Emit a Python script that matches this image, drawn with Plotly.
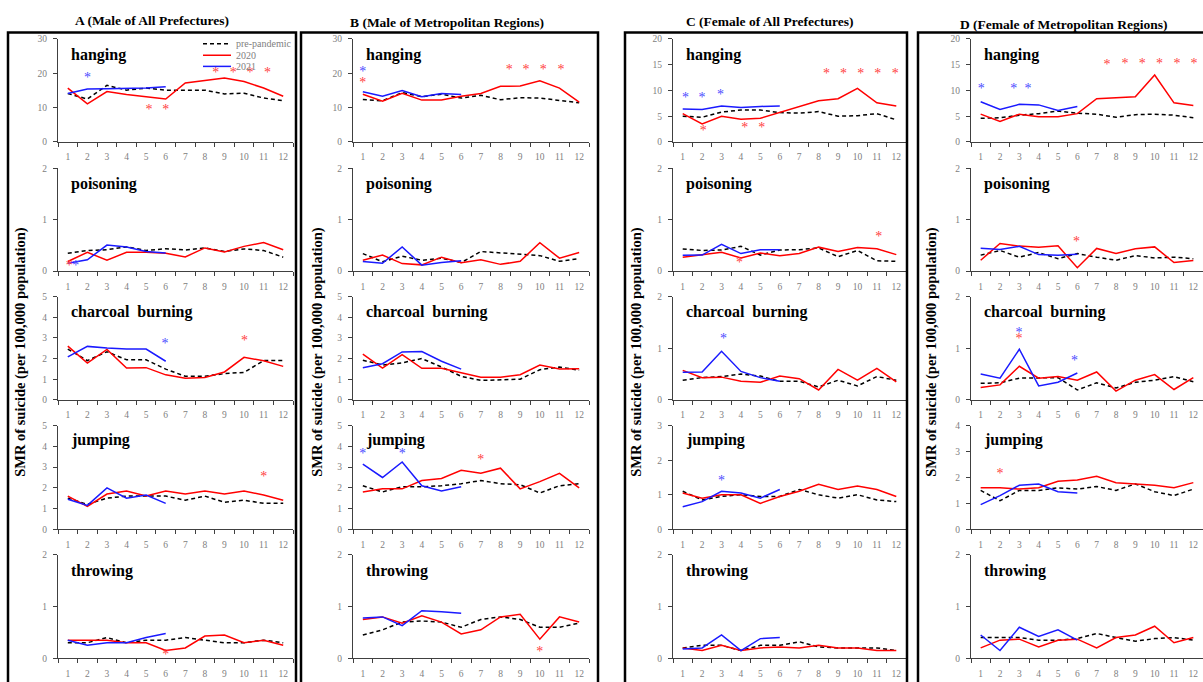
import plotly.graph_objects as go

W, H = 1203, 682
months = list(range(1, 13))
months_2021 = list(range(1, 7))

column_titles = ["A (Male of All Prefectures)", "B (Male of Metropolitan Regions)",
                 "C (Female of All Prefectures)", "D (Female of Metropolitan Regions)"]
method_names = ["hanging", "poisoning", "charcoal&nbsp; burning", "jumping", "throwing"]
y_title = "SMR of suicide (per 100,000 population)"
legend_names = ["pre-pandemic", "2020", "2021"]

# ---------------- A (Male of All Prefectures) ----------------
A_hanging_pre = [14.1, 12.5, 16.5, 15.1, 15.7, 15.1, 15.1, 15.1, 14.0, 14.2, 12.8, 12.0]
A_hanging_2020 = [15.7, 11.1, 14.7, 13.8, 13.2, 12.5, 17.2, 17.9, 18.6, 17.6, 15.7, 13.3]
A_hanging_2021 = [14.1, 15.4, 15.5, 15.5, 15.7, 16.1]
A_hanging_stars = [(2.0, 18.6, "b"), (5.15, 9.3, "r"), (6.0, 9.3, "r"), (8.55, 19.8, "r"),
                   (9.45, 19.8, "r"), (10.3, 19.8, "r"), (11.2, 19.8, "r")]

A_poisoning_pre = [0.345, 0.40, 0.415, 0.47, 0.40, 0.435, 0.41, 0.45, 0.38, 0.43, 0.40, 0.27]
A_poisoning_2020 = [0.185, 0.365, 0.21, 0.365, 0.365, 0.345, 0.275, 0.45, 0.37, 0.48, 0.555, 0.415]
A_poisoning_2021 = [0.15, 0.22, 0.505, 0.466, 0.38, 0.35]
A_poisoning_stars = [(1.08, 0.095, "r"), (1.41, 0.095, "b")]

A_charcoal_pre = [2.46, 1.90, 2.33, 1.94, 1.94, 1.49, 1.14, 1.14, 1.27, 1.33, 1.90, 1.90]
A_charcoal_2020 = [2.6, 1.78, 2.44, 1.54, 1.56, 1.21, 1.05, 1.08, 1.35, 2.06, 1.89, 1.62]
A_charcoal_2021 = [2.08, 2.59, 2.51, 2.46, 2.46, 1.87]
A_charcoal_stars = [(5.97, 2.7, "b"), (10.02, 2.83, "r")]

A_jumping_pre = [1.5, 1.2, 1.5, 1.6, 1.6, 1.6, 1.4, 1.6, 1.3, 1.4, 1.25, 1.25]
A_jumping_2020 = [1.6, 1.1, 1.7, 1.85, 1.6, 1.85, 1.7, 1.85, 1.7, 1.85, 1.65, 1.4]
A_jumping_2021 = [1.45, 1.15, 2.0, 1.5, 1.65, 1.25]
A_jumping_stars = [(11.0, 2.5, "r")]

A_throwing_pre = [0.3, 0.3, 0.4, 0.3, 0.35, 0.35, 0.4, 0.35, 0.3, 0.3, 0.35, 0.3]
A_throwing_2020 = [0.35, 0.35, 0.35, 0.3, 0.3, 0.15, 0.2, 0.43, 0.45, 0.3, 0.35, 0.25]
A_throwing_2021 = [0.35, 0.25, 0.3, 0.3, 0.4, 0.48]
A_throwing_stars = [(6.0, 0.05, "r")]

# ---------------- B (Male of Metropolitan Regions) ----------------
B_hanging_pre = [12.4, 12.0, 14.4, 13.2, 13.9, 12.8, 13.6, 12.3, 12.9, 12.8, 12.1, 11.4]
B_hanging_2020 = [13.9, 11.9, 14.2, 12.2, 12.2, 13.3, 14.1, 16.2, 16.3, 17.8, 15.7, 11.6]
B_hanging_2021 = [14.6, 13.3, 15.0, 13.2, 14.1, 13.8]
B_hanging_stars = [(1.0, 20.3, "b"), (1.0, 17.1, "r"), (8.45, 20.9, "r"), (9.3, 20.9, "r"),
                   (10.17, 20.9, "r"), (11.07, 20.9, "r")]

B_poisoning_pre = [0.34, 0.18, 0.29, 0.21, 0.25, 0.165, 0.38, 0.35, 0.33, 0.30, 0.19, 0.24]
B_poisoning_2020 = [0.21, 0.31, 0.145, 0.12, 0.27, 0.16, 0.22, 0.13, 0.19, 0.55, 0.25, 0.36]
B_poisoning_2021 = [0.185, 0.15, 0.47, 0.115, 0.165, 0.20]
B_poisoning_stars = []

B_charcoal_pre = [1.92, 1.69, 1.79, 2.0, 1.59, 1.14, 0.94, 0.97, 1.0, 1.46, 1.59, 1.43]
B_charcoal_2020 = [2.21, 1.54, 2.19, 1.53, 1.53, 1.33, 1.10, 1.10, 1.22, 1.69, 1.49, 1.51]
B_charcoal_2021 = [1.56, 1.75, 2.32, 2.34, 1.87, 1.49]
B_charcoal_stars = []

B_jumping_pre = [2.1, 1.8, 2.05, 2.05, 2.1, 2.2, 2.35, 2.2, 2.15, 1.75, 2.1, 2.2]
B_jumping_2020 = [1.8, 1.95, 1.95, 2.35, 2.45, 2.85, 2.7, 2.95, 1.95, 2.3, 2.7, 2.0]
B_jumping_2021 = [3.15, 2.5, 3.25, 2.1, 1.85, 2.05]
B_jumping_stars = [(1.0, 3.6, "b"), (3.0, 3.6, "b"), (7.0, 3.3, "r")]

B_throwing_pre = [0.45, 0.55, 0.7, 0.72, 0.7, 0.6, 0.75, 0.8, 0.75, 0.6, 0.6, 0.68]
B_throwing_2020 = [0.75, 0.8, 0.68, 0.82, 0.7, 0.47, 0.55, 0.8, 0.85, 0.37, 0.8, 0.7]
B_throwing_2021 = [0.78, 0.8, 0.63, 0.92, 0.9, 0.87]
B_throwing_stars = [(10.0, 0.12, "r")]

# ---------------- C (Female of All Prefectures) ----------------
C_hanging_pre = [5.0, 4.8, 5.8, 6.2, 6.2, 5.7, 5.6, 5.9, 5.0, 5.1, 5.5, 4.3]
C_hanging_2020 = [5.5, 3.5, 5.0, 4.4, 4.6, 5.7, 6.9, 8.0, 8.4, 10.4, 7.6, 7.0]
C_hanging_2021 = [6.4, 6.3, 7.0, 6.7, 6.9, 7.0]
C_hanging_stars = [(1.14, 8.5, "b"), (2.0, 8.5, "b"), (2.94, 9.0, "b"), (2.06, 2.1, "r"),
                   (4.2, 2.6, "r"), (5.07, 2.6, "r"), (8.41, 13.1, "r"), (9.28, 13.1, "r"),
                   (10.17, 13.1, "r"), (11.05, 13.1, "r"), (11.94, 13.1, "r")]

C_poisoning_pre = [0.43, 0.40, 0.41, 0.48, 0.31, 0.41, 0.415, 0.45, 0.28, 0.40, 0.20, 0.19]
C_poisoning_2020 = [0.27, 0.32, 0.365, 0.255, 0.35, 0.30, 0.34, 0.465, 0.38, 0.46, 0.435, 0.32]
C_poisoning_2021 = [0.305, 0.31, 0.52, 0.34, 0.415, 0.415]
C_poisoning_stars = [(3.92, 0.15, "r"), (11.1, 0.65, "r")]

C_charcoal_pre = [0.38, 0.43, 0.45, 0.50, 0.46, 0.36, 0.36, 0.25, 0.38, 0.27, 0.45, 0.38]
C_charcoal_2020 = [0.57, 0.43, 0.44, 0.36, 0.34, 0.46, 0.41, 0.19, 0.59, 0.38, 0.61, 0.35]
C_charcoal_2021 = [0.535, 0.54, 0.94, 0.55, 0.43, 0.36]
C_charcoal_stars = [(3.1, 1.17, "b")]

C_jumping_pre = [1.1, 0.85, 0.95, 1.0, 0.95, 0.95, 1.15, 1.0, 0.9, 1.0, 0.85, 0.8]
C_jumping_2020 = [1.05, 0.9, 1.0, 1.0, 0.75, 0.95, 1.1, 1.3, 1.15, 1.25, 1.15, 0.95]
C_jumping_2021 = [0.65, 0.8, 1.1, 1.05, 0.9, 1.15]
C_jumping_stars = [(3.0, 1.37, "b")]

C_throwing_pre = [0.2, 0.25, 0.25, 0.15, 0.25, 0.25, 0.32, 0.22, 0.2, 0.2, 0.2, 0.15]
C_throwing_2020 = [0.2, 0.15, 0.25, 0.15, 0.2, 0.22, 0.2, 0.25, 0.2, 0.2, 0.15, 0.15]
C_throwing_2021 = [0.18, 0.2, 0.45, 0.15, 0.38, 0.4]
C_throwing_stars = []

# ---------------- D (Female of Metropolitan Regions) ----------------
D_hanging_pre = [4.6, 4.7, 5.2, 5.5, 6.0, 5.6, 5.4, 4.8, 5.3, 5.4, 5.2, 4.7]
D_hanging_2020 = [5.4, 4.0, 5.4, 4.9, 4.9, 5.5, 8.4, 8.6, 8.8, 13.0, 7.6, 7.1]
D_hanging_2021 = [7.8, 6.3, 7.3, 7.2, 6.1, 6.9]
D_hanging_stars = [(1.03, 10.2, "b"), (2.71, 10.2, "b"), (3.45, 10.2, "b"), (7.54, 14.8, "r"),
                   (8.47, 15.0, "r"), (9.36, 15.0, "r"), (10.25, 15.0, "r"), (11.15, 15.0, "r"),
                   (12.03, 15.0, "r")]

D_poisoning_pre = [0.31, 0.40, 0.27, 0.36, 0.24, 0.34, 0.27, 0.21, 0.30, 0.255, 0.27, 0.24]
D_poisoning_2020 = [0.21, 0.535, 0.485, 0.465, 0.49, 0.065, 0.44, 0.34, 0.435, 0.47, 0.165, 0.205]
D_poisoning_2021 = [0.445, 0.42, 0.48, 0.32, 0.305, 0.325]
D_poisoning_stars = [(5.96, 0.555, "r")]

D_charcoal_pre = [0.32, 0.33, 0.42, 0.43, 0.43, 0.19, 0.33, 0.23, 0.34, 0.38, 0.45, 0.35]
D_charcoal_2020 = [0.24, 0.29, 0.65, 0.42, 0.45, 0.38, 0.54, 0.17, 0.38, 0.49, 0.20, 0.43]
D_charcoal_2021 = [0.50, 0.42, 0.98, 0.27, 0.34, 0.52]
D_charcoal_stars = [(2.98, 1.28, "b"), (2.98, 1.16, "r"), (5.85, 0.75, "b")]

D_jumping_pre = [1.5, 1.1, 1.5, 1.5, 1.6, 1.55, 1.65, 1.5, 1.75, 1.45, 1.3, 1.55]
D_jumping_2020 = [1.6, 1.6, 1.55, 1.6, 1.85, 1.9, 2.05, 1.8, 1.75, 1.7, 1.6, 1.8]
D_jumping_2021 = [0.95, 1.3, 1.7, 1.75, 1.45, 1.4]
D_jumping_stars = [(2.0, 2.13, "r")]

D_throwing_pre = [0.4, 0.4, 0.4, 0.35, 0.35, 0.38, 0.48, 0.4, 0.33, 0.38, 0.4, 0.35]
D_throwing_2020 = [0.2, 0.35, 0.37, 0.22, 0.35, 0.37, 0.2, 0.4, 0.45, 0.62, 0.3, 0.4]
D_throwing_2021 = [0.45, 0.15, 0.6, 0.42, 0.55, 0.35]
D_throwing_stars = []

y_max = {"A": [30, 2, 5, 5, 2], "B": [30, 2, 5, 5, 2], "C": [20, 2, 2, 3, 2], "D": [20, 2, 2, 4, 2]}
y_dtick = {"A": [10, 1, 1, 1, 1], "B": [10, 1, 1, 1, 1], "C": [5, 1, 1, 1, 1], "D": [5, 1, 1, 1, 1]}

panels = {
    "A": [(A_hanging_pre, A_hanging_2020, A_hanging_2021, A_hanging_stars),
          (A_poisoning_pre, A_poisoning_2020, A_poisoning_2021, A_poisoning_stars),
          (A_charcoal_pre, A_charcoal_2020, A_charcoal_2021, A_charcoal_stars),
          (A_jumping_pre, A_jumping_2020, A_jumping_2021, A_jumping_stars),
          (A_throwing_pre, A_throwing_2020, A_throwing_2021, A_throwing_stars)],
    "B": [(B_hanging_pre, B_hanging_2020, B_hanging_2021, B_hanging_stars),
          (B_poisoning_pre, B_poisoning_2020, B_poisoning_2021, B_poisoning_stars),
          (B_charcoal_pre, B_charcoal_2020, B_charcoal_2021, B_charcoal_stars),
          (B_jumping_pre, B_jumping_2020, B_jumping_2021, B_jumping_stars),
          (B_throwing_pre, B_throwing_2020, B_throwing_2021, B_throwing_stars)],
    "C": [(C_hanging_pre, C_hanging_2020, C_hanging_2021, C_hanging_stars),
          (C_poisoning_pre, C_poisoning_2020, C_poisoning_2021, C_poisoning_stars),
          (C_charcoal_pre, C_charcoal_2020, C_charcoal_2021, C_charcoal_stars),
          (C_jumping_pre, C_jumping_2020, C_jumping_2021, C_jumping_stars),
          (C_throwing_pre, C_throwing_2020, C_throwing_2021, C_throwing_stars)],
    "D": [(D_hanging_pre, D_hanging_2020, D_hanging_2021, D_hanging_stars),
          (D_poisoning_pre, D_poisoning_2020, D_poisoning_2021, D_poisoning_stars),
          (D_charcoal_pre, D_charcoal_2020, D_charcoal_2021, D_charcoal_stars),
          (D_jumping_pre, D_jumping_2020, D_jumping_2021, D_jumping_stars),
          (D_throwing_pre, D_throwing_2020, D_throwing_2021, D_throwing_stars)],
}

# ---------------- layout geometry (pixels) ----------------
SERIF = "Liberation Serif, Times New Roman, serif"
col_x = {"A": (58, 293), "B": (353, 589), "C": (673, 906), "D": (971, 1203)}
row_y = [(34.5, 139), (165.7, 270), (296, 400.7), (427, 532), (558, 663)]
label_off = [16, 16, 16, 14.5, 16]
frames = {"A": (8, 296), "B": (301, 598), "C": (625, 907), "D": (918, 1215)}
title_pos = {"A": (152, 16), "B": (447, 18), "C": (769, 17), "D": (1063, 20)}
ytitle_x = {"A": 21, "B": 318, "C": 637, "D": 932}

RED = "#ff0000"
BLUE = "#1a1aff"
STAR_COL = {"r": "#ff4040", "b": "#4a4aff"}
AXIS_COL = "#404040"
TICK_COL = "#808080"


def px(x):
    return x / W


def py(y):
    return 1 - y / H


fig = go.Figure()
layout = dict(width=W, height=H, margin=dict(l=0, r=0, t=0, b=0),
              paper_bgcolor="white", plot_bgcolor="white", showlegend=False,
              font=dict(family=SERIF))
annotations = []
shapes = []

cols = ["A", "B", "C", "D"]
for ci, c in enumerate(cols):
    for ri in range(5):
        idx = ri * 4 + ci + 1
        xa = "x" if idx == 1 else f"x{idx}"
        ya = "y" if idx == 1 else f"y{idx}"
        xkey = "xaxis" if idx == 1 else f"xaxis{idx}"
        ykey = "yaxis" if idx == 1 else f"yaxis{idx}"
        x0, x1 = col_x[c]
        yt, yb = row_y[ri]
        layout[xkey] = dict(domain=[px(x0), px(x1)], range=[0.5, 12.5], anchor=ya,
                            tickmode="array", tickvals=months, ticks="",
                            showline=True, linecolor=AXIS_COL, linewidth=1.2,
                            showgrid=False, zeroline=False, fixedrange=True,
                            tickfont=dict(family=SERIF, size=9.5, color=TICK_COL),
                            ticklabelstandoff=6,
                            minor=dict(tickmode="array", tickvals=[m + 0.5 for m in range(0, 13)],
                                       ticks="outside", ticklen=4, tickcolor=AXIS_COL,
                                       tickwidth=1, showgrid=False))
        layout[ykey] = dict(domain=[py(yb), py(yt)], range=[0, y_max[c][ri]], anchor=xa,
                            tickmode="linear", tick0=0, dtick=y_dtick[c][ri],
                            ticks="outside", ticklen=4, tickcolor=AXIS_COL, tickwidth=1,
                            showline=True, linecolor=AXIS_COL, linewidth=1.2,
                            showgrid=False, zeroline=False, fixedrange=True,
                            tickfont=dict(family=SERIF, size=9.5, color=TICK_COL),
                            ticklabelstandoff=4)
        pre, y20, y21, stars = panels[c][ri]
        fig.add_trace(go.Scatter(x=months, y=pre, mode="lines", xaxis=xa, yaxis=ya,
                                 line=dict(color="black", width=1.5, dash="4px,3px"),
                                 name=legend_names[0]))
        fig.add_trace(go.Scatter(x=months, y=y20, mode="lines", xaxis=xa, yaxis=ya,
                                 line=dict(color=RED, width=1.5), name=legend_names[1]))
        fig.add_trace(go.Scatter(x=months_2021, y=y21, mode="lines", xaxis=xa, yaxis=ya,
                                 line=dict(color=BLUE, width=1.5), name=legend_names[2]))
        for key in ("r", "b"):
            sx = [s[0] for s in stars if s[2] == key]
            sy = [s[1] for s in stars if s[2] == key]
            if sx:
                fig.add_trace(go.Scatter(x=sx, y=sy, mode="text", text=["*"] * len(sx),
                                         textposition="middle center", cliponaxis=False,
                                         textfont=dict(family=SERIF, size=14, color=STAR_COL[key]),
                                         xaxis=xa, yaxis=ya, hoverinfo="skip"))
        # method label
        annotations.append(dict(xref="paper", yref="paper", x=px(x0 + 11), y=py(yt + label_off[ri]),
                                xanchor="left", yanchor="middle", showarrow=False,
                                text=f"<b>{method_names[ri]}</b>",
                                font=dict(family=SERIF, size=16, color="black")))
    # column title
    tx, ty = title_pos[c]
    annotations.append(dict(xref="paper", yref="paper", x=px(tx), y=py(ty), xanchor="center",
                            yanchor="middle", showarrow=False, text=f"<b>{column_titles[ci]}</b>",
                            font=dict(family=SERIF, size=13.5, color="black")))
    # y axis title
    annotations.append(dict(xref="paper", yref="paper", x=px(ytitle_x[c]), y=py(352),
                            xanchor="center", yanchor="middle", showarrow=False, textangle=-90,
                            text=f"<b>{y_title}</b>",
                            font=dict(family=SERIF, size=14.5, color="black")))
    # frame
    fx0, fx1 = frames[c]
    shapes.append(dict(type="rect", xref="paper", yref="paper", x0=px(fx0), x1=px(fx1),
                       y0=py(700), y1=py(28), line=dict(color="black", width=2.5),
                       fillcolor="rgba(0,0,0,0)", layer="above"))

# legend (inside panel A hanging)
leg_items = [(39.3, "black", "4px,3px"), (51, RED, "solid"), (62.3, BLUE, "solid")]
for (ly, lc, ld), name in zip(leg_items, legend_names):
    shapes.append(dict(type="line", xref="paper", yref="paper", x0=px(203), x1=px(231),
                       y0=py(ly), y1=py(ly), line=dict(color=lc, width=1.5, dash=ld)))
    annotations.append(dict(xref="paper", yref="paper", x=px(234), y=py(ly), xanchor="left",
                            yanchor="middle", showarrow=False, text=name,
                            font=dict(family=SERIF, size=10, color=TICK_COL)))

layout["annotations"] = annotations
layout["shapes"] = shapes
fig.update_layout(**layout)
fig.write_html("out.html")
